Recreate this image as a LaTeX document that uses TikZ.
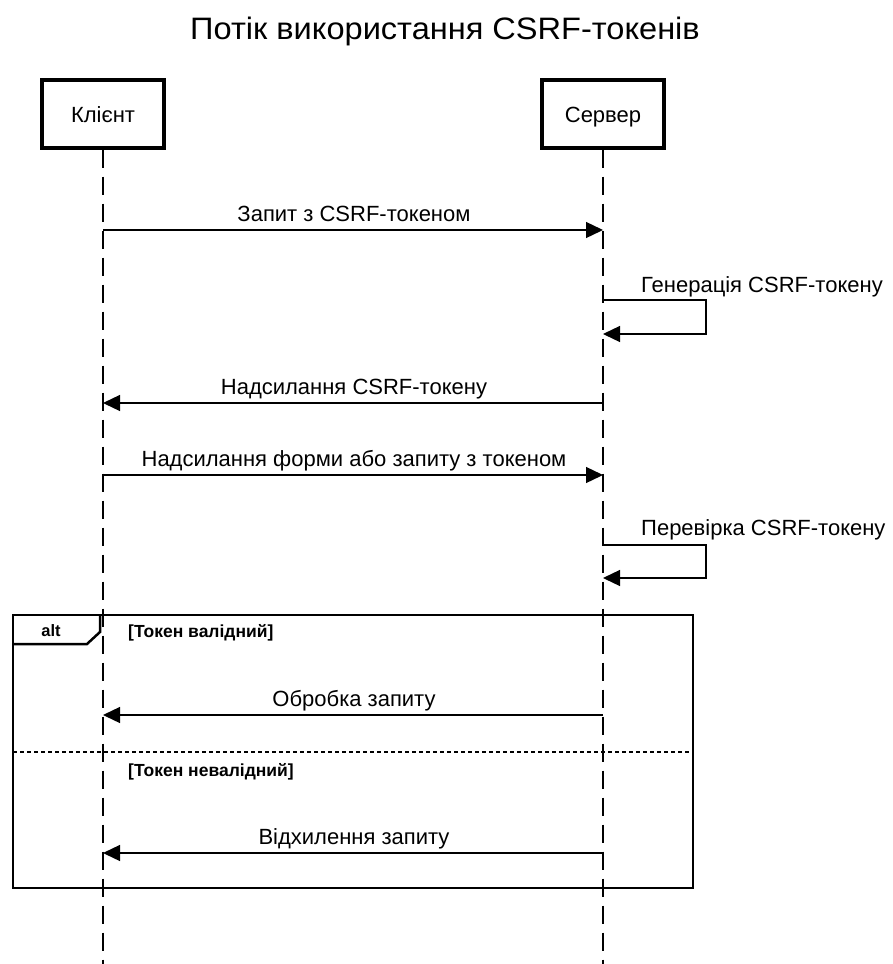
\documentclass[tikz,border=0pt]{standalone}
\usepackage{fontspec}
\setmainfont{Liberation Sans}
\newfontfamily\titlefont{Liberation Sans}[FakeStretch=1.05]
\usetikzlibrary{arrows.meta}
\begin{document}
\begin{tikzpicture}[x=1pt,y=-1pt,
  actor/.style={draw,line width=3.2pt,minimum width=122pt,minimum height=68pt,font=\fontsize{22}{24}\selectfont,inner sep=0pt,text height=16pt,text depth=0pt},
  life/.style={draw,line width=1.2pt,dash pattern=on 18pt off 9pt},
  msg/.style={draw,line width=1.3pt,-{Triangle[length=17pt,width=16pt]}},
  mlabel/.style={font=\fontsize{22}{24}\selectfont,inner sep=0pt,anchor=base},
  frame/.style={draw,line width=2.8pt},
  guard/.style={font=\bfseries\fontsize{17.5}{19}\selectfont,inner sep=0pt,anchor=base west}]
\useasboundingbox (0,0) rectangle (892,964);
\node[font=\titlefont\fontsize{31}{34}\selectfont,inner sep=0pt,anchor=base] (title) at (445,39) {Потік використання CSRF-токенів};
\node[actor] (cl) at (103,114) {Клієнт};
\node[actor] (sv) at (603,114) {Сервер};
\coordinate (clend) at (103,964);
\coordinate (svend) at (603,964);
\draw[life] (cl.south) -- (clend);
\draw[life] (sv.south) -- (svend);
% message 1
\coordinate (a1) at (103,230); \coordinate (b1) at (603,230);
\draw[msg] (a1) -- (b1);
\node[mlabel] (l1) at (354,221) {Запит з CSRF-токеном};
% self 1
\coordinate (s1a) at (603,300); \coordinate (s1b) at (706,300);
\coordinate (s1c) at (706,334); \coordinate (s1d) at (603,334);
\draw[msg] (s1a) -- (s1b) -- (s1c) -- (s1d);
\node[mlabel,anchor=base west] (l2) at (641,292) {Генерація CSRF-токену};
% message 3
\coordinate (a3) at (603,403); \coordinate (b3) at (103,403);
\draw[msg] (a3) -- (b3);
\node[mlabel] (l3) at (354,394) {Надсилання CSRF-токену};
% message 4
\coordinate (a4) at (103,475); \coordinate (b4) at (603,475);
\draw[msg] (a4) -- (b4);
\node[mlabel] (l4) at (354,466) {Надсилання форми або запиту з токеном};
% self 2
\coordinate (s2a) at (603,545); \coordinate (s2b) at (706,545);
\coordinate (s2c) at (706,578); \coordinate (s2d) at (603,578);
\draw[msg] (s2a) -- (s2b) -- (s2c) -- (s2d);
\node[mlabel,anchor=base west] (l5) at (641,535) {Перевірка CSRF-токену};
% alt frame
\coordinate (f1) at (13,615); \coordinate (f2) at (693,888);
\draw[frame] (f1) rectangle (f2);
\coordinate (t1) at (100,615); \coordinate (t2) at (100,632);
\coordinate (t3) at (87,644); \coordinate (t4) at (13,644);
\draw[line width=2.5pt] (t1) -- (t2) -- (t3) -- (t4);
\node[font=\bfseries\fontsize{16.5}{18}\selectfont,inner sep=0pt,anchor=base] (alt) at (51,636) {alt};
\node[guard] (g1) at (128,637) {[Токен валідний]};
% message 6
\coordinate (a6) at (603,715); \coordinate (b6) at (103,715);
\draw[msg] (a6) -- (b6);
\node[mlabel] (l6) at (354,706) {Обробка запиту};
% separator
\coordinate (d1) at (13,752); \coordinate (d2) at (693,752);
\draw[line width=2pt,dash pattern=on 4pt off 3pt] (d1) -- (d2);
\node[guard] (g2) at (128,776) {[Токен невалідний]};
% message 7
\coordinate (a7) at (603,853); \coordinate (b7) at (103,853);
\draw[msg] (a7) -- (b7);
\node[mlabel] (l7) at (354,844) {Відхилення запиту};
\end{tikzpicture}
\end{document}
